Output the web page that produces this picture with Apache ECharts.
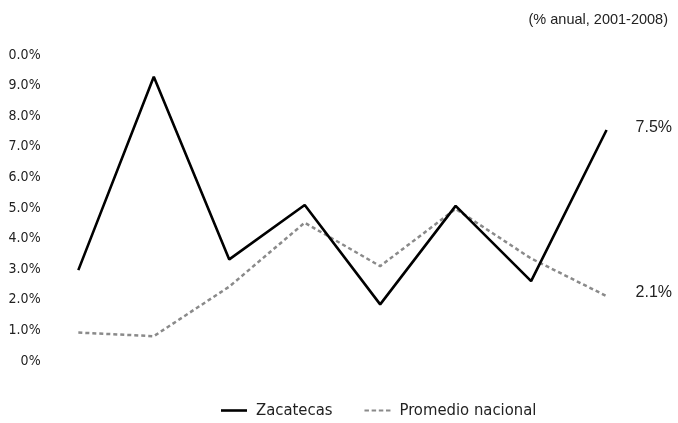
<!DOCTYPE html>
<html><head><meta charset="utf-8">
<script src="https://cdn.jsdelivr.net/npm/echarts@6/dist/echarts.min.js"></script>
<style>html,body{margin:0;padding:0;background:#fff}#c{width:678px;height:423px}</style>
</head><body><div id="c"></div>
<script>
const categories = ['2001','2002','2003','2004','2005','2006','2007','2008'];
const zacatecas = [2.97, 9.29, 3.32, 5.10, 1.85, 5.07, 2.61, 7.55];
const promedio = [0.93, 0.81, 2.43, 4.52, 3.10, 4.97, 3.35, 2.12];
const tickLabels = ['0%','1.0%','2.0%','3.0%','4.0%','5.0%','6.0%','7.0%','8.0%','9.0%','0.0%'];
const endLabels = ['7.5%','2.1%'];
const subtitle = '(% anual, 2001-2008)';

const narrow = '"Liberation Sans Narrow", "DejaVu Sans Condensed", sans-serif';
function endLabel(text, dy){
  return {show:true, distance:29, offset:[0,dy], formatter:text, fontSize:16, color:'#222', fontFamily:'"Liberation Sans", sans-serif'};
}
const dashIcon = 'path://M0,0h5v2.5h-5z M8,0h5v2.5h-5z M16,0h5v2.5h-5z M24,0h5v2.5h-5z';
const chart = echarts.init(document.getElementById('c'));
chart.setOption({
  animation:false,
  title:{text:subtitle, right:5, top:7, textStyle:{fontSize:14.5, fontWeight:'normal', color:'#222', fontFamily:'"Liberation Sans", sans-serif'}},
  grid:{left:40.6, right:33.7, top:55, bottom:62, containLabel:false},
  legend:{bottom:-1, left:216, itemWidth:26, itemHeight:10, itemGap:32,
    textStyle:{fontSize:16.5, color:'#222', fontFamily:narrow, padding:[0,0,0,4]},
    data:[{name:'Zacatecas', icon:'path://M0,0 L26,0 L26,2.6 L0,2.6 Z', itemStyle:{color:'#000'}},
          {name:'Promedio nacional', icon:dashIcon, itemStyle:{color:'#8a8a8a'}}]},
  xAxis:{type:'category', data:categories, boundaryGap:true, axisLine:{show:false}, axisTick:{show:false}, axisLabel:{show:false}},
  yAxis:{type:'value', min:0, max:10, interval:1, splitLine:{show:false}, axisLine:{show:false}, axisTick:{show:false},
    axisLabel:{margin:0, fontSize:14, color:'#222', fontFamily:narrow, formatter:(v)=>tickLabels[Math.round(v)]}},
  series:[
    {name:'Zacatecas', type:'line', data:zacatecas, symbol:'none', showSymbol:false,
      lineStyle:{color:'#000', width:2.6}, itemStyle:{color:'#000'}, endLabel:endLabel(endLabels[0], -2), z:3},
    {name:'Promedio nacional', type:'line', data:promedio, symbol:'none', showSymbol:false,
      lineStyle:{color:'#8a8a8a', width:2.5, type:[4,3]}, itemStyle:{color:'#8a8a8a'}, endLabel:endLabel(endLabels[1], -4), z:2}
  ]
});
</script></body></html>
